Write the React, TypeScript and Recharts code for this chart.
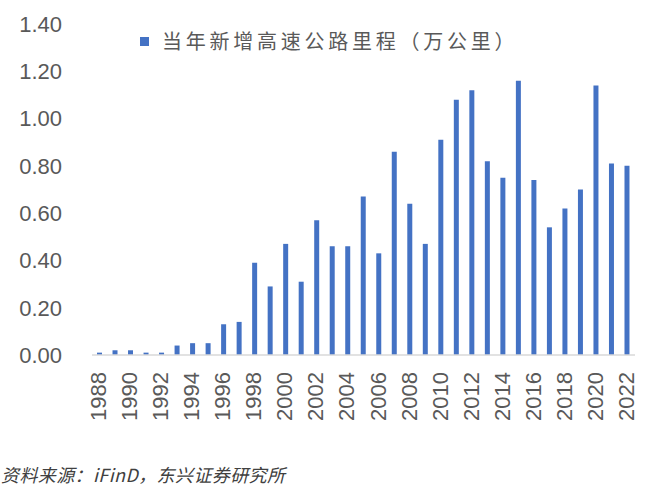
import React from 'react';
import { BarChart, Bar, XAxis, YAxis, Legend } from 'recharts';

const years = [
  '1988', '1989', '1990', '1991', '1992', '1993', '1994', '1995', '1996', '1997',
  '1998', '1999', '2000', '2001', '2002', '2003', '2004', '2005', '2006', '2007',
  '2008', '2009', '2010', '2011', '2012', '2013', '2014', '2015', '2016', '2017',
  '2018', '2019', '2020', '2021', '2022',
];

const newMileage = [
  0.01, 0.02, 0.02, 0.01, 0.01, 0.04, 0.05, 0.05, 0.13, 0.14,
  0.39, 0.29, 0.47, 0.31, 0.57, 0.46, 0.46, 0.67, 0.43, 0.86,
  0.64, 0.47, 0.91, 1.08, 1.12, 0.82, 0.75, 1.16, 0.74, 0.54,
  0.62, 0.70, 1.14, 0.81, 0.80,
];

const yTicks = [0, 0.2, 0.4, 0.6, 0.8, 1.0, 1.2, 1.4];

const seriesName = '当年新增高速公路里程（万公里）';
const sourceText = '资料来源：iFinD，东兴证券研究所';

const data = years.map((year, i) => ({ year, value: newMileage[i] }));

const BLUE = '#4472C4';
const GRAY = '#595959';
const NUM_FONT = '"Liberation Sans", Arial, sans-serif';
const CJK_FONT = '"Noto Sans CJK SC", "Liberation Sans", sans-serif';

const XTick = (props: any) => {
  const { x, y, payload } = props;
  return (
    <text
      x={x - 1}
      y={y}
      transform={`rotate(-90 ${x - 1} ${y})`}
      textAnchor="end"
      dominantBaseline="central"
      fill={GRAY}
      fontSize={22}
      fontFamily={NUM_FONT}
    >
      {payload.value}
    </text>
  );
};

const renderLegend = () => (
  <div
    style={{
      display: 'flex',
      alignItems: 'center',
      height: 22,
      fontFamily: CJK_FONT,
      fontSize: 20,
      lineHeight: '22px',
      color: GRAY,
      letterSpacing: 3.75,
      whiteSpace: 'nowrap',
    }}
  >
    <span style={{ display: 'inline-block', width: 9, height: 9, background: BLUE, marginRight: 13 }} />
    <span>{seriesName}</span>
  </div>
);

export default function App() {
  return (
    <div style={{ position: 'absolute', left: 0, top: 0, width: 660, height: 503, background: '#fff' }}>
      <BarChart
        width={660}
        height={503}
        data={data}
        margin={{ top: 24, right: 25, left: 0, bottom: 88 }}
      >
        <XAxis
          dataKey="year"
          interval={1}
          height={60}
          axisLine={{ stroke: '#d9d9d9', strokeWidth: 1.5 }}
          tickLine={false}
          tickSize={6}
          tickMargin={11}
          tick={<XTick />}
        />
        <YAxis
          width={92}
          domain={[0, 1.4]}
          ticks={yTicks}
          interval={0}
          axisLine={false}
          tickLine={false}
          tickSize={6}
          tickMargin={24}
          tickFormatter={(v: number) => v.toFixed(2)}
          tick={{ fill: GRAY, fontSize: 22, fontFamily: NUM_FONT }}
        />
        <Legend
          layout="horizontal"
          align="center"
          verticalAlign="middle"
          content={renderLegend}
          wrapperStyle={{ left: 140, top: 30, width: 'auto' }}
        />
        <Bar dataKey="value" name={seriesName} fill={BLUE} barSize={5} isAnimationActive={false} />
      </BarChart>
      <div
        style={{
          position: 'absolute',
          left: 1,
          top: 463,
          fontFamily: CJK_FONT,
          fontSize: 18,
          fontStyle: 'italic',
          color: '#404040',
          whiteSpace: 'nowrap',
          lineHeight: '22px',
          letterSpacing: 0.4,
        }}
      >
        {sourceText}
      </div>
    </div>
  );
}
